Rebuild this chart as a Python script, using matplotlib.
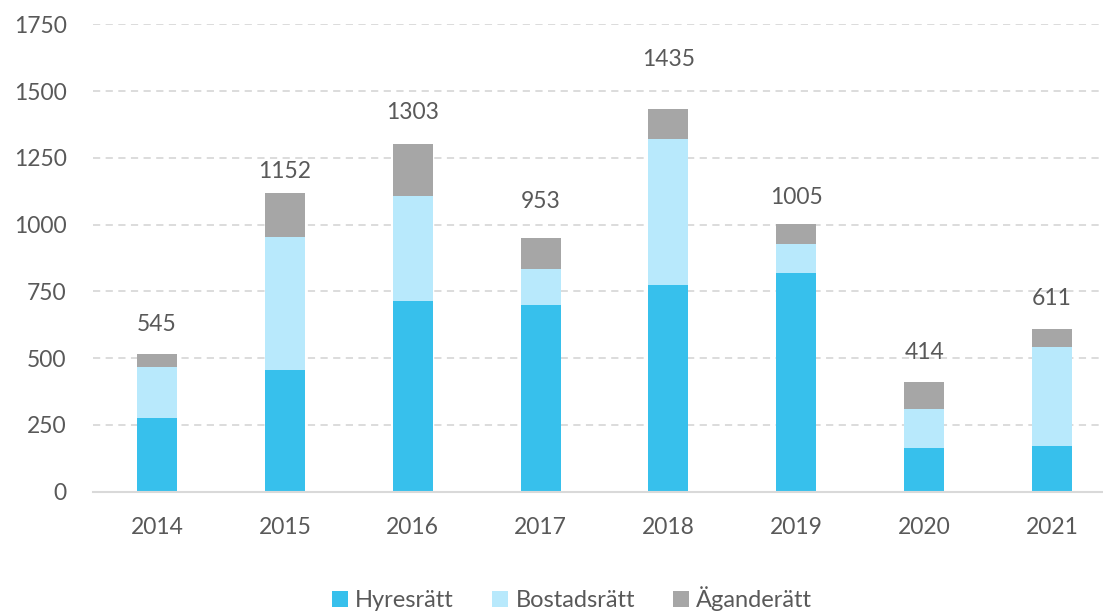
import numpy as np
import matplotlib.pyplot as plt

years = ["2014", "2015", "2016", "2017", "2018", "2019", "2020", "2021"]
hyresratt = [277, 457, 713, 698, 774, 819, 165, 172]
bostadsratt = [189, 495, 393, 137, 545, 107, 146, 371]
aganderatt = [50, 168, 196, 116, 115, 77, 101, 66]
totals = [545, 1152, 1303, 953, 1435, 1005, 414, 611]

# label distance above bar top, in pixels (labels sit unevenly in the original)
label_pad = [29, 21, 31, 36, 49, 26, 29, 31]

txt = "#595959"
plt.rcParams["font.family"] = ["Lato", "DejaVu Sans"]

fig = plt.figure(figsize=(11.03, 6.12), dpi=100)
ax = fig.add_axes([93 / 1103, 120.3 / 612, 1023 / 1103, 467.4 / 612])

x = np.arange(len(years))
w = 0.313
h = np.array(hyresratt)
b = np.array(bostadsratt)
a = np.array(aganderatt)
ax.bar(x, h, w, color="#37C0EC", label="Hyresrätt", zorder=3)
ax.bar(x, b, w, bottom=h, color="#B8E9FC", label="Bostadsrätt", zorder=3)
ax.bar(x, a, w, bottom=h + b, color="#A6A6A6", label="Äganderätt", zorder=3)

for i in range(len(years)):
    ax.annotate(str(totals[i]), (x[i], h[i] + b[i] + a[i]),
                xytext=(0, label_pad[i] * 0.72), textcoords="offset points",
                ha="center", va="center", fontsize=16.5, color=txt)

ax.set_xlim(-0.5, len(years) - 0.5)
ax.set_ylim(0, 1750)
ax.set_yticks(np.arange(0, 1751, 250))
ax.set_xticks(x)
ax.set_xticklabels(years)
ax.yaxis.grid(True, color="#D9D9D9", linestyle=(0, (4, 3)), linewidth=1.3, zorder=0)
for s in ["top", "right", "left"]:
    ax.spines[s].set_visible(False)
ax.spines["bottom"].set_color("#D9D9D9")
ax.spines["bottom"].set_linewidth(1.5)
ax.spines["bottom"].set_zorder(4)
ax.tick_params(axis="both", length=0, labelsize=16.5, labelcolor=txt)
ax.tick_params(axis="x", pad=18)
ax.tick_params(axis="y", pad=19)

fig.legend(loc="center", bbox_to_anchor=(572 / 1103, 13 / 612), ncol=3, frameon=False,
           fontsize=17, labelcolor=txt, handlelength=0.7, handleheight=0.7,
           handletextpad=0.3, columnspacing=1.6)

fig.savefig("out.png", dpi=100)
